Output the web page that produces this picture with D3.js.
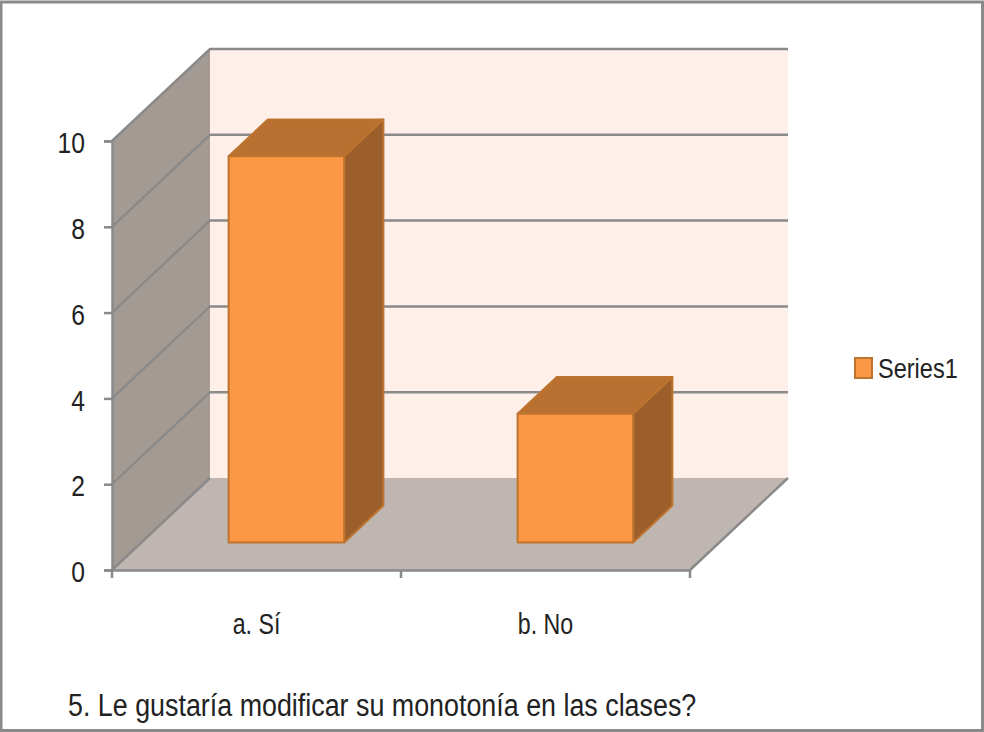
<!DOCTYPE html>
<html>
<head>
<meta charset="utf-8">
<script src="https://cdn.jsdelivr.net/npm/d3@7"></script>
<style>
html, body { margin: 0; padding: 0; background: #fff; }
svg { display: block; }
text { font-family: "Liberation Sans", sans-serif; fill: #222; }
</style>
</head>
<body>
<div id="chart"></div>
<script>
var categories = ["a. Sí", "b. No"];
var values = [9, 3];
var yTicks = [0, 2, 4, 6, 8, 10];
var seriesName = "Series1";
var title = "5. Le gustaría modificar su monotonía en las clases?";

var width = 984, height = 732;

var svg = d3.select("#chart").append("svg")
    .attr("width", width)
    .attr("height", height);

// border of the picture
svg.append("rect")
    .attr("x", 1).attr("y", 2)
    .attr("width", 981.5).attr("height", 728.5)
    .attr("fill", "#fff")
    .attr("stroke", "#8a8a8a")
    .attr("stroke-width", 3);

var xScale = d3.scaleBand().domain(categories).range([112, 690]);
var yScale = d3.scaleLinear().domain([0, 10]).range([570, 141]);

// depth of the 3D box, z goes from 0 (front) to 1 (back wall)
var depthX = 98, depthY = -92;

function project(x, v, z) {
    return [x + z * depthX, yScale(v) + z * depthY];
}

function poly(points) {
    return "M" + points.map(function(p) { return p.join(","); }).join("L") + "Z";
}

var x0 = 112, x1 = 690;

// side wall
svg.append("path")
    .attr("d", poly([project(x0, 0, 0), project(x0, 10, 0), project(x0, 10, 1), project(x0, 0, 1)]))
    .attr("fill", "#a39a94");

// back wall
svg.append("path")
    .attr("d", poly([project(x0, 0, 1), project(x0, 10, 1), project(x1, 10, 1), project(x1, 0, 1)]))
    .attr("fill", "#fef0e9");

// floor
svg.append("path")
    .attr("d", poly([project(x0, 0, 0), project(x0, 0, 1), project(x1, 0, 1), project(x1, 0, 0)]))
    .attr("fill", "#bfb5b1");

// gridlines, along the side wall then along the back wall
var grid = d3.line();
svg.selectAll(".grid")
    .data(yTicks)
    .enter().append("path")
    .attr("class", "grid")
    .attr("fill", "none")
    .attr("stroke", "#8a8a8a")
    .attr("stroke-width", 2.5)
    .attr("d", function(d) {
        if (d === 0) return grid([project(x0, 0, 0), project(x0, 0, 1)]);
        return grid([project(x0, d, 0), project(x0, d, 1), project(x1, d, 1)]);
    });

// right edge of the floor
svg.append("path")
    .attr("d", grid([project(x1, 0, 0), project(x1, 0, 1)]))
    .attr("fill", "none")
    .attr("stroke", "#8a8a8a")
    .attr("stroke-width", 2.5);

// bars
var zFront = 0.3, zBack = 0.7;
var barOffset = 0.4 * xScale.bandwidth();
var barWidth = 0.4 * xScale.bandwidth();

var bars = svg.selectAll(".bar")
    .data(values)
    .enter().append("g")
    .attr("class", "bar")
    .attr("stroke", "#bd742f")
    .attr("stroke-width", 2)
    .attr("stroke-linejoin", "round");

function left(d, i) { return xScale(categories[i]) + barOffset - zFront * depthX + 1; }

bars.append("path")
    .attr("fill", "#b97031")
    .attr("d", function(d, i) {
        var a = left(d, i), b = a + barWidth;
        return poly([project(a, d, zFront), project(a, d, zBack), project(b, d, zBack), project(b, d, zFront)]);
    });

bars.append("path")
    .attr("fill", "#9c5f2b")
    .attr("d", function(d, i) {
        var b = left(d, i) + barWidth;
        return poly([project(b, 0, zFront), project(b, d, zFront), project(b, d, zBack), project(b, 0, zBack)]);
    });

bars.append("path")
    .attr("fill", "#fb9745")
    .attr("d", function(d, i) {
        var a = left(d, i), b = a + barWidth;
        return poly([project(a, 0, zFront), project(a, d, zFront), project(b, d, zFront), project(b, 0, zFront)]);
    });

// y axis
var yAxis = svg.append("g")
    .attr("transform", "translate(" + x0 + ",0)")
    .call(d3.axisLeft(yScale).tickValues(yTicks).tickSize(8).tickPadding(19));
yAxis.selectAll("text").attr("dy", "0.4em");

// x axis
var xAxis = svg.append("g")
    .attr("transform", "translate(0," + yScale(0) + ")")
    .call(d3.axisBottom(xScale).tickSize(0).tickPadding(35));

// the ticks of this axis sit between the categories
xAxis.selectAll(".sep")
    .data(xScale.domain().concat(["end"]))
    .enter().append("line")
    .attr("class", "sep")
    .attr("x1", function(d, i) { return i < categories.length ? xScale(d) : xScale.range()[1]; })
    .attr("x2", function(d, i) { return i < categories.length ? xScale(d) : xScale.range()[1]; })
    .attr("y1", 0)
    .attr("y2", 8);

[yAxis, xAxis].forEach(function(a) {
    a.selectAll("path.domain, line")
        .attr("stroke", "#8a8a8a")
        .attr("stroke-width", 2.5);
    a.selectAll("text")
        .style("font-size", "29px")
        .style("fill", "#222");
});

// legend
var legend = svg.append("g").attr("transform", "translate(854,357)");
legend.append("rect")
    .attr("x", 1).attr("y", 1)
    .attr("width", 17).attr("height", 20)
    .attr("fill", "#fb9745")
    .attr("stroke", "#bd742f")
    .attr("stroke-width", 2);
legend.append("text")
    .attr("x", 24).attr("y", 11)
    .attr("dy", "0.35em")
    .style("font-size", "28px")
    .text(seriesName);

svg.append("text")
    .attr("x", 68).attr("y", 716)
    .style("font-size", "31px")
    .text(title);

// the reference font is a narrow one, squeeze the text to the same width
function squeeze(sel, k) {
    sel.each(function() {
        var w = this.getComputedTextLength();
        d3.select(this)
            .attr("textLength", w * k)
            .attr("lengthAdjust", "spacingAndGlyphs");
    });
}
squeeze(yAxis.selectAll("text"), 0.85);
squeeze(xAxis.selectAll("text").attr("dy", "1em"), 0.8);
squeeze(legend.select("text"), 0.84);
squeeze(svg.selectAll("svg > text"), 0.866);
</script>
</body>
</html>
